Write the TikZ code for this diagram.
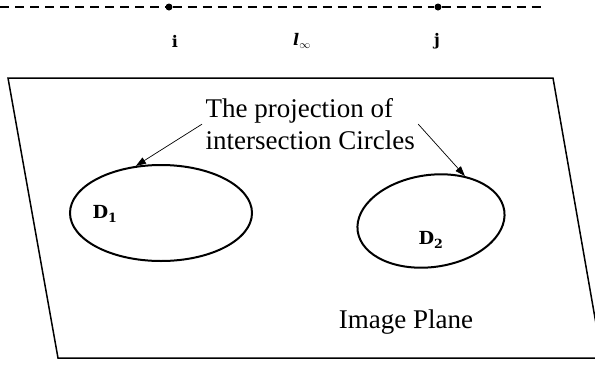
\documentclass[tikz,border=0pt]{standalone}
\usepackage{amsmath,amssymb}
\usepackage{fontspec}
\setmainfont{Liberation Serif}
\newfontfamily\lblfont{DejaVu Serif}
\usetikzlibrary{arrows.meta,positioning,shapes.geometric}

\begin{document}
\begin{tikzpicture}[x=1pt,y=-1pt,
  pt/.style={circle,fill,inner sep=0pt,minimum size=7pt},
  lbl/.style={font=\lblfont\bfseries\fontsize{16}{18}\selectfont},
  circ/.style={ellipse,draw,line width=2pt,inner sep=0pt},
  pointer/.style={-{Triangle[length=10pt,width=7pt]},line width=0.7pt}]
  \useasboundingbox (0,0) rectangle (595,365); % 画像の範囲
  \coordinate (lleft) at (0,7); % 無限遠直線の左端
  \coordinate (lright) at (545,7); % 無限遠直線の右端
  \node[pt] (i) at (169,7) {}; % 点 i
  \node[pt] (j) at (438,7) {}; % 点 j
  \draw[line width=2pt,dash pattern=on 9pt off 6pt] (lleft) -- (i) -- (j) -- (lright); % 無限遠直線
  \node[lbl] (ilabel) at (175,41) {i}; % i のラベル
  \node[lbl] (linf) at (302,41) {\itshape l$_{\infty}$}; % 直線のラベル
  \node[lbl] (jlabel) at (437,41) {j}; % j のラベル
  \draw[line width=1.5pt] (8,78) -- (553,78) -- (602,358) -- (58,358) -- cycle; % 画像平面
  \node[circ,minimum width=182pt,minimum height=96pt] (d1) at (161,213) {}; % 1つ目の円の投影
  \node[lbl,font=\lblfont\bfseries\fontsize{18}{20}\selectfont] (d1label) at (105,214) {D\textsubscript{1}}; % D1 のラベル
  \node[circ,minimum width=148pt,minimum height=92pt,rotate=8] (d2) at (431,221) {}; % 2つ目の円の投影
  \node[lbl,font=\lblfont\bfseries\fontsize{18}{20}\selectfont] (d2label) at (431,240) {D\textsubscript{2}}; % D2 のラベル
  \node[align=left,anchor=north west,font=\fontsize{27}{32}\selectfont] (caption) at (202,95) {The projection of\\intersection Circles}; % 説明文
  \draw[pointer] (caption.west) -- (d1.118); % 左の円への矢印
  \draw[pointer] (caption.east) -- (d2.45); % 右の円への矢印
  \node[font=\fontsize{27}{30}\selectfont] (plane) at (406,322) {Image Plane}; % 平面の名前
\end{tikzpicture}
\end{document}
